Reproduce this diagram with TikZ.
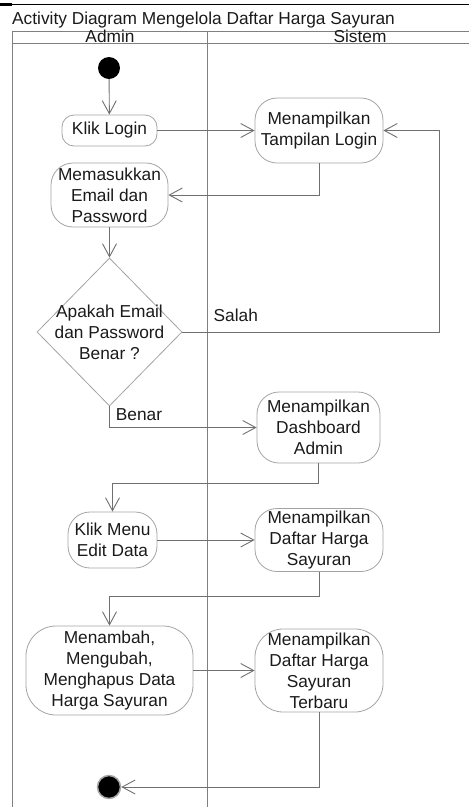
\documentclass[tikz,border=0pt]{standalone}
\usepackage{fontspec}
\setmainfont{Liberation Sans}
\usetikzlibrary{arrows.meta,shapes.geometric}
\definecolor{lanegray}{HTML}{808080}
\definecolor{boxgray}{HTML}{A3A3A3}
\definecolor{flowgray}{HTML}{707070}
\definecolor{txtblack}{HTML}{1A1A1A}
\begin{document}
\begin{tikzpicture}[x=1pt,y=-1pt]
\tikzstyle{act}=[draw=boxgray,line width=0.8pt,rounded corners=22pt,align=center,inner sep=0pt,text=txtblack,font=\fontsize{17.3}{21}\selectfont]
\tikzstyle{decision}=[draw=boxgray,line width=0.8pt,diamond,inner sep=0pt,minimum width=145pt,minimum height=148pt]
\tikzstyle{flow}=[draw=flowgray,line width=0.9pt,-{Straight Barb[length=13pt,width=14pt]}]
\tikzstyle{lane}=[draw=lanegray,line width=0.9pt]
\tikzstyle{lbl}=[text=txtblack,font=\fontsize{17.3}{21}\selectfont,inner sep=1pt,align=center]
% end of definitions
\useasboundingbox (0,0) rectangle (469,807);
\draw[black,line width=1.2pt] (0,4.5) -- (469,4.5);
\draw[black,line width=2.5pt] (0,4.5) -- (12,4.5);
\node[lbl,anchor=base west,inner sep=0pt] (title) at (12,24) {Activity Diagram Mengelola Daftar Harga Sayuran};
% swimlanes
\draw[lane] (469,31) -- (12.5,31) -- (12.5,807);
\draw[lane] (12.5,43) -- (469,43);
\draw[lane] (207,31) -- (207,807);
\node[lbl,anchor=base,inner sep=0pt] (admin) at (110,42.5) {Admin};
\node[lbl,anchor=base,inner sep=0pt] (sistem) at (360,42.5) {Sistem};
% activities
\node[circle,fill=black,minimum size=22pt,inner sep=0pt] (start) at (109,68) {};
\node[act,rounded corners=12pt,minimum width=95pt,minimum height=31pt] (login) at (109.5,130.5) {Klik Login};
\node[act,minimum width=128pt,minimum height=65pt] (tampil) at (319,130.5) {Menampilkan\\Tampilan Login};
\node[act,minimum width=117pt,minimum height=64pt] (masuk) at (109.5,195) {Memasukkan\\Email dan\\Password};
\node[decision] (cek) at (109.5,332) {};
\node[lbl] (cektext) at (cek) {Apakah Email\\dan Password\\Benar ?};
\node[act,minimum width=123pt,minimum height=71pt] (dash) at (318.5,427.5) {Menampilkan\\Dashboard\\Admin};
\node[act,minimum width=89pt,minimum height=56pt] (menu) at (112.5,540) {Klik Menu\\Edit Data};
\node[act,minimum width=128pt,minimum height=63pt] (daftar) at (319,540) {Menampilkan\\Daftar Harga\\Sayuran};
\node[act,rounded corners=30pt,minimum width=167pt,minimum height=89pt] (ubah) at (109.5,670.5) {Menambah,\\Mengubah,\\Menghapus Data\\Harga Sayuran};
\node[act,rounded corners=28pt,minimum width=128pt,minimum height=83pt] (baru) at (319,670.5) {Menampilkan\\Daftar Harga\\Sayuran\\Terbaru};
\node[circle,fill=black,draw=black!35,line width=1.5pt,minimum size=23pt,inner sep=0pt] (end) at (109,787) {};
\coordinate (salahpt) at (439,332);
% flows
\draw[flow] (start) -- (login);
\draw[flow] (login) -- (tampil);
\draw[flow] (tampil.south) |- (masuk.east);
\draw[flow] (masuk) -- (cek);
\draw[flow] (cek.east) -- node[lbl,pos=0.208,above=9pt] (salah) {Salah} (salahpt) |- (tampil.east);
\draw[flow] (cek.south) |- node[lbl,fill=white,pos=0.5,anchor=south west,xshift=4pt,yshift=4pt,inner sep=2pt] (benar) {Benar} (dash.west);
\draw[flow] (dash.south) -- ++(0,20) -| (menu.north);
\draw[flow] (menu) -- (daftar);
\draw[flow] (daftar.south) -- ++(0,25) -| (ubah.north);
\draw[flow] (ubah) -- (baru);
\draw[flow] (baru.south) |- (end.east);
\end{tikzpicture}
\end{document}
